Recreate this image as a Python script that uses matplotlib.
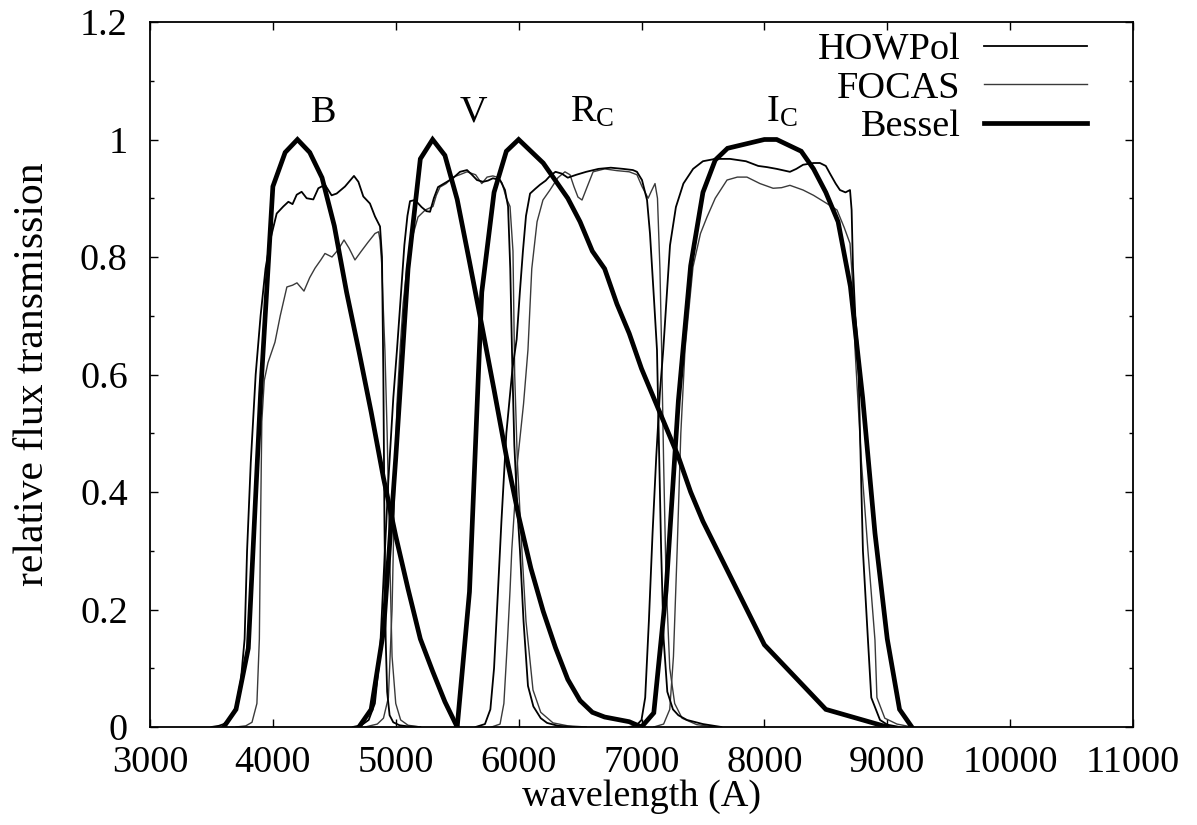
import matplotlib
matplotlib.use('Agg')
import matplotlib.pyplot as plt
from matplotlib.ticker import MultipleLocator
from matplotlib.lines import Line2D

plt.rcParams['font.family'] = ['Liberation Serif', 'DejaVu Serif']
plt.rcParams['mathtext.fontset'] = 'custom'
plt.rcParams['mathtext.rm'] = 'Liberation Serif'
plt.rcParams['mathtext.it'] = 'Liberation Serif:italic'

# ---------------- data ----------------
# Bessel standard passbands
bessel_B_wl = [3600, 3700, 3800, 3900, 4000, 4100, 4200, 4300, 4400, 4500, 4600,
               4700, 4800, 4900, 5000, 5100, 5200, 5300, 5400, 5500]
bessel_B_tr = [0.000, 0.030, 0.134, 0.567, 0.920, 0.978, 1.000, 0.978, 0.935, 0.853, 0.740,
               0.640, 0.536, 0.424, 0.325, 0.235, 0.150, 0.095, 0.043, 0.000]
bessel_V_wl = [4700, 4800, 4900, 5000, 5100, 5200, 5300, 5400, 5500, 5600, 5700, 5800,
               5900, 6000, 6100, 6200, 6300, 6400, 6500, 6600, 6700, 6800, 6900, 7000]
bessel_V_tr = [0.000, 0.030, 0.163, 0.458, 0.780, 0.967, 1.000, 0.973, 0.898, 0.792, 0.684, 0.574,
               0.461, 0.359, 0.270, 0.197, 0.135, 0.081, 0.045, 0.025, 0.017, 0.013, 0.009, 0.000]
bessel_R_wl = [5500, 5600, 5700, 5800, 5900, 6000, 6100, 6200, 6300, 6400, 6500, 6600,
               6700, 6800, 6900, 7000, 7100, 7200, 7300, 7400, 7500, 8000, 8500, 9000]
bessel_R_tr = [0.00, 0.23, 0.74, 0.91, 0.98, 1.00, 0.98, 0.96, 0.93, 0.90, 0.86, 0.81,
               0.78, 0.72, 0.67, 0.61, 0.56, 0.51, 0.46, 0.40, 0.35, 0.14, 0.03, 0.00]
bessel_I_wl = [7000, 7100, 7200, 7300, 7400, 7500, 7600, 7700, 7800, 7900, 8000, 8100,
               8200, 8300, 8400, 8500, 8600, 8700, 8800, 8900, 9000, 9100, 9200]
bessel_I_tr = [0.000, 0.024, 0.232, 0.555, 0.785, 0.910, 0.965, 0.985, 0.990, 0.995, 1.000, 1.000,
               0.990, 0.980, 0.950, 0.910, 0.860, 0.750, 0.560, 0.330, 0.150, 0.030, 0.000]

# HOWPol measured passbands
howpol_B_wl = [3500, 3560, 3600, 3650, 3700, 3740, 3770, 3790, 3820, 3860, 3900, 3940, 3980,
               4031, 4085, 4126, 4160, 4194, 4234, 4275, 4329, 4370, 4424, 4478, 4519, 4587,
               4660, 4696, 4736, 4790, 4831, 4872, 4888, 4899, 4908, 4918, 4930, 4950, 4980,
               5030, 5100, 5200]
howpol_B_tr = [0.000, 0.002, 0.005, 0.014, 0.035, 0.080, 0.150, 0.300, 0.450, 0.600, 0.700, 0.780, 0.830,
               0.874, 0.886, 0.894, 0.890, 0.906, 0.911, 0.900, 0.898, 0.917, 0.923, 0.905, 0.908, 0.920,
               0.938, 0.928, 0.903, 0.891, 0.869, 0.852, 0.800, 0.600, 0.350, 0.150, 0.060, 0.020, 0.008,
               0.003, 0.001, 0.000]
howpol_V_wl = [4650, 4720, 4780, 4830, 4870, 4900, 4940, 4980, 5010, 5040, 5070, 5095, 5116, 5157,
               5210, 5250, 5279, 5310, 5344, 5417, 5470, 5523, 5580, 5620, 5661, 5710, 5750,
               5791, 5849, 5889, 5914, 5932, 5948, 5965, 5990, 6011, 6040, 6076, 6120, 6180,
               6231, 6320, 6450]
howpol_V_tr = [0.000, 0.003, 0.012, 0.040, 0.120, 0.250, 0.420, 0.560, 0.642, 0.730, 0.820, 0.870, 0.895, 0.897,
               0.885, 0.878, 0.877, 0.900, 0.919, 0.928, 0.935, 0.945, 0.948, 0.940, 0.931, 0.928, 0.930,
               0.934, 0.931, 0.914, 0.886, 0.780, 0.620, 0.480, 0.370, 0.300, 0.180, 0.070, 0.035, 0.015,
               0.007, 0.002, 0.000]
howpol_R_wl = [5650, 5726, 5770, 5800, 5832, 5860, 5900, 5950, 5984, 6010, 6035, 6060, 6093, 6135,
               6174, 6220, 6255, 6300, 6350, 6400, 6470, 6550, 6650, 6750, 6850, 6930, 6963,
               7004, 7045, 7069, 7102, 7126, 7145, 7160, 7180, 7210, 7256, 7300, 7370, 7500, 7650]
howpol_R_tr = [0.000, 0.005, 0.030, 0.100, 0.232, 0.350, 0.500, 0.610, 0.660, 0.740, 0.810, 0.870, 0.908, 0.916,
               0.923, 0.930, 0.938, 0.945, 0.942, 0.935, 0.940, 0.945, 0.950, 0.952, 0.950, 0.948, 0.945,
               0.931, 0.897, 0.840, 0.727, 0.642, 0.450, 0.300, 0.150, 0.060, 0.030, 0.020, 0.012, 0.005, 0.000]
howpol_I_wl = [6900, 6960, 7000, 7030, 7060, 7090, 7120, 7150, 7177, 7232, 7280, 7341, 7420, 7500,
               7600, 7720, 7850, 7950, 8021, 8100, 8208, 8260, 8315, 8400, 8452, 8500, 8534,
               8580, 8615, 8660, 8697, 8710, 8721, 8740, 8762, 8790, 8802, 8843, 8870, 8941,
               9000, 9100]
howpol_I_tr = [0.000, 0.003, 0.012, 0.050, 0.180, 0.330, 0.460, 0.570, 0.642, 0.820, 0.885, 0.925, 0.950, 0.963,
               0.967, 0.967, 0.963, 0.955, 0.953, 0.950, 0.945, 0.950, 0.957, 0.960, 0.960, 0.955, 0.942,
               0.925, 0.914, 0.910, 0.914, 0.880, 0.783, 0.700, 0.642, 0.400, 0.300, 0.148, 0.050, 0.012,
               0.004, 0.000]

# FOCAS measured passbands
focas_B_wl = [3700, 3780, 3830, 3870, 3890, 3900, 3910, 3930, 3960, 4017, 4060, 4114, 4160, 4196,
              4253, 4300, 4343, 4390, 4424, 4481, 4530, 4579, 4620, 4668, 4720, 4774, 4831,
              4860, 4872, 4885, 4896, 4912, 4930, 4950, 4970, 5000, 5040, 5100, 5200]
focas_B_tr = [0.000, 0.002, 0.008, 0.040, 0.150, 0.350, 0.520, 0.590, 0.620, 0.655, 0.700, 0.749, 0.752, 0.756,
              0.742, 0.765, 0.781, 0.795, 0.806, 0.800, 0.812, 0.829, 0.815, 0.795, 0.810, 0.825, 0.840,
              0.843, 0.829, 0.790, 0.727, 0.640, 0.500, 0.300, 0.120, 0.040, 0.012, 0.003, 0.000]
focas_V_wl = [4750, 4850, 4900, 4940, 4970, 4990, 5010, 5035, 5060, 5091, 5130, 5181, 5240, 5303,
              5330, 5360, 5410, 5466, 5520, 5580, 5650, 5700, 5743, 5790, 5824, 5865, 5900,
              5930, 5954, 5968, 5990, 6027, 6060, 6117, 6180, 6280, 6400, 6550]
focas_V_tr = [0.000, 0.005, 0.015, 0.050, 0.200, 0.400, 0.550, 0.642, 0.720, 0.783, 0.830, 0.868, 0.880, 0.886,
              0.905, 0.919, 0.925, 0.936, 0.940, 0.945, 0.940, 0.925, 0.936, 0.938, 0.936, 0.926, 0.900,
              0.886, 0.810, 0.600, 0.450, 0.300, 0.180, 0.063, 0.025, 0.007, 0.002, 0.000]
focas_R_wl = [5780, 5849, 5880, 5910, 5930, 5944, 5990, 6040, 6076, 6107, 6150, 6198, 6255, 6320,
              6377, 6418, 6450, 6483, 6516, 6557, 6606, 6700, 6800, 6900, 6963, 7004, 7054,
              7080, 7110, 7130, 7150, 7164, 7180, 7200, 7230, 7270, 7330, 7450, 7600]
focas_R_tr = [0.000, 0.005, 0.040, 0.150, 0.232, 0.300, 0.450, 0.550, 0.642, 0.780, 0.860, 0.897, 0.914, 0.935,
              0.945, 0.940, 0.920, 0.902, 0.897, 0.919, 0.945, 0.950, 0.947, 0.945, 0.940, 0.920, 0.900,
              0.912, 0.925, 0.900, 0.780, 0.642, 0.450, 0.250, 0.100, 0.040, 0.015, 0.004, 0.000]
focas_I_wl = [7100, 7180, 7230, 7260, 7290, 7320, 7354, 7419, 7480, 7533, 7600, 7696, 7780, 7858,
              7964, 8071, 8140, 8208, 8315, 8400, 8509, 8591, 8650, 8697, 8720, 8738, 8790,
              8843, 8900, 8916, 8980, 9079, 9200]
focas_I_tr = [0.000, 0.005, 0.030, 0.120, 0.300, 0.500, 0.642, 0.783, 0.840, 0.868, 0.900, 0.931, 0.936, 0.936,
              0.925, 0.917, 0.918, 0.922, 0.914, 0.905, 0.891, 0.880, 0.850, 0.823, 0.750, 0.642, 0.450,
              0.300, 0.148, 0.050, 0.015, 0.005, 0.000]

filter_labels = ['B', 'V', r'R$_{\mathrm{C}}$', r'I$_{\mathrm{C}}$']
label_wl = [4416, 5631, 6595, 8143]
series_names = ['HOWPol', 'FOCAS', 'Bessel']

x_ticks = [3000, 4000, 5000, 6000, 7000, 8000, 9000, 10000, 11000]
y_ticks = [0, 0.2, 0.4, 0.6, 0.8, 1.0, 1.2]
y_ticklabels = ['0', '0.2', '0.4', '0.6', '0.8', '1', '1.2']

# ---------------- figure ----------------
FS = 27.5
fig = plt.figure(figsize=(11.97, 8.25), dpi=100)
ax = fig.add_axes([150 / 1197, (825 - 727) / 825, 983 / 1197, 705 / 825])

styles = {
    'HOWPol': dict(color='black', lw=1.3),
    'FOCAS': dict(color='#3a3a3a', lw=1.0),
    'Bessel': dict(color='black', lw=3.4, solid_joinstyle='miter'),
}

howpol = [(howpol_B_wl, howpol_B_tr), (howpol_V_wl, howpol_V_tr),
          (howpol_R_wl, howpol_R_tr), (howpol_I_wl, howpol_I_tr)]
focas = [(focas_B_wl, focas_B_tr), (focas_V_wl, focas_V_tr),
         (focas_R_wl, focas_R_tr), (focas_I_wl, focas_I_tr)]
bessel = [(bessel_B_wl, bessel_B_tr), (bessel_V_wl, bessel_V_tr),
          (bessel_R_wl, bessel_R_tr), (bessel_I_wl, bessel_I_tr)]

for wl, tr in focas:
    ax.plot(wl, tr, **styles['FOCAS'])
for wl, tr in howpol:
    ax.plot(wl, tr, **styles['HOWPol'])
for wl, tr in bessel:
    ax.plot(wl, tr, **styles['Bessel'])

for lab, wl in zip(filter_labels, label_wl):
    ax.text(wl, 1.03, lab, fontsize=FS, ha='center', va='baseline')

ax.set_xlim(3000, 11000)
ax.set_ylim(0, 1.2)
ax.set_xticks(x_ticks)
ax.set_xticklabels([str(t) for t in x_ticks])
ax.set_yticks(y_ticks)
ax.set_yticklabels(y_ticklabels)
ax.yaxis.set_minor_locator(MultipleLocator(0.1))
ax.tick_params(which='both', direction='in', top=True, right=True, labelsize=FS, width=1.0)
ax.tick_params(axis='x', which='major', length=6, pad=13)
ax.tick_params(axis='y', which='major', length=6, pad=16)
ax.tick_params(axis='y', which='minor', length=3)
for s in ax.spines.values():
    s.set_linewidth(1.3)

ax.set_xlabel('wavelength (A)', fontsize=FS, labelpad=0)
ax.set_ylabel('relative flux transmission', fontsize=30, labelpad=20)

handles = [Line2D([], [], **styles[n]) for n in series_names]
leg = ax.legend(handles, series_names, loc='upper right', bbox_to_anchor=(0.953, 0.985),
                markerfirst=False, frameon=False, fontsize=FS, borderpad=0, borderaxespad=0,
                handlelength=2.7, handletextpad=0.6, labelspacing=0.1)

fig.savefig('out.png', dpi=100)
